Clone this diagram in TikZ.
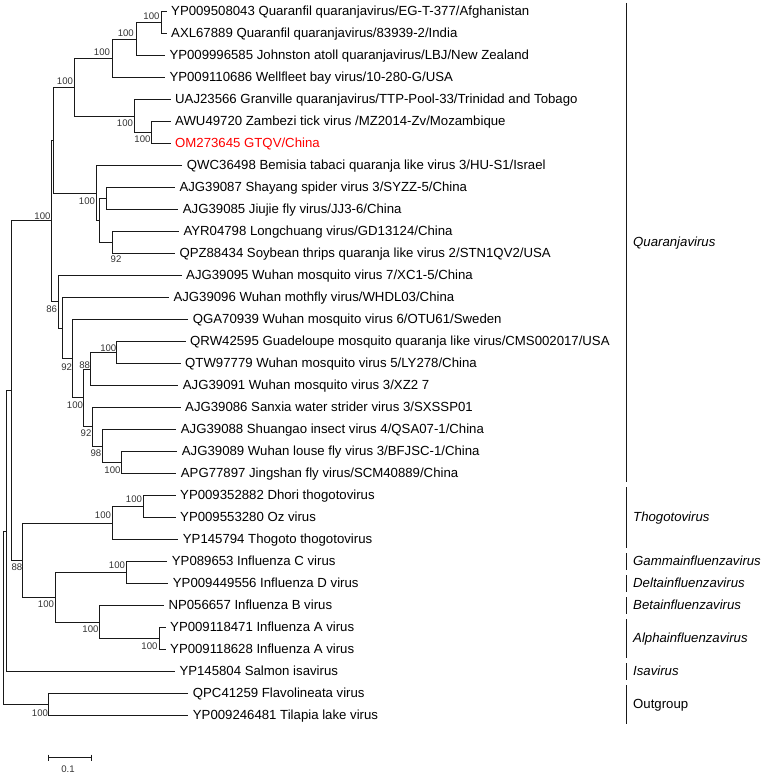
\documentclass[tikz,border=0pt]{standalone}
\usepackage{fontspec}
\setmainfont{Liberation Sans}
\begin{document}
\begin{tikzpicture}[x=1pt,y=-1pt,
  br/.style={line width=1.4pt,draw=black!90},
  leaf/.style={anchor=base west,xshift=4.5pt,yshift=-4.2pt,inner sep=0pt,font=\fontsize{13.2}{15}\selectfont},
  bs/.style={inner sep=0pt,font=\fontsize{9.6}{11}\selectfont,text=black!80},
  clade/.style={anchor=base west,inner sep=0pt,yshift=-4.2pt,font=\fontsize{13.2}{15}\selectfont\itshape},
  cladeup/.style={anchor=base west,inner sep=0pt,yshift=-4.2pt,font=\fontsize{13.2}{15}\selectfont}]
\useasboundingbox (0,0) rectangle (767,775);
% leaf ends
\coordinate (e1) at (166.5,11.5);
\coordinate (e2) at (166.5,33.5);
\coordinate (e3) at (164.8,55.5);
\coordinate (e4) at (164.8,77.5);
\coordinate (e5) at (170.5,99.5);
\coordinate (e6) at (170.5,121.5);
\coordinate (e7) at (170.5,143.5);
\coordinate (e8) at (182.2,165.5);
\coordinate (e9) at (174.8,187.5);
\coordinate (e10) at (178.2,209.5);
\coordinate (e11) at (178.8,231.5);
\coordinate (e12) at (174.8,253.5);
\coordinate (e13) at (181.5,275.5);
\coordinate (e14) at (168.8,297.5);
\coordinate (e15) at (188.2,319.5);
\coordinate (e16) at (185.5,341.5);
\coordinate (e17) at (180.5,363.5);
\coordinate (e18) at (178.2,385.5);
\coordinate (e19) at (180.5,407.5);
\coordinate (e20) at (176.2,429.5);
\coordinate (e21) at (177.2,451.5);
\coordinate (e22) at (176.2,473.5);
\coordinate (e23) at (175.5,495.5);
\coordinate (e24) at (175.5,517.5);
\coordinate (e25) at (178.2,539.5);
\coordinate (e26) at (167.2,561.5);
\coordinate (e27) at (168.2,583.5);
\coordinate (e28) at (163.8,605.5);
\coordinate (e29) at (165.5,627.5);
\coordinate (e30) at (165.5,649.5);
\coordinate (e31) at (174.8,671.5);
\coordinate (e32) at (188.2,693.5);
\coordinate (e33) at (188.2,715.5);
% internal nodes
\coordinate (A) at (161.5,22.5);
\coordinate (B) at (136.5,39.5);
\coordinate (C) at (112.5,58.5);
\coordinate (E) at (151.5,132.5);
\coordinate (D) at (134.5,116.5);
\coordinate (F) at (74.5,87.5);
\coordinate (I) at (106.5,198.5);
\coordinate (J) at (112.5,242.5);
\coordinate (K) at (99.5,220.5);
\coordinate (H) at (96.5,193.5);
\coordinate (G) at (53.5,140.5);
\coordinate (R) at (116.5,352.5);
\coordinate (P) at (90.5,369.5);
\coordinate (U) at (121.5,462.5);
\coordinate (T) at (102.5,446.5);
\coordinate (S) at (92.5,426.5);
\coordinate (O) at (83.5,397.5);
\coordinate (N) at (72.5,358.5);
\coordinate (M) at (62.5,328.5);
\coordinate (L) at (58.5,301.5);
\coordinate (Q) at (51.5,220.5);
\coordinate (X) at (143.5,506.5);
\coordinate (Y) at (112.5,523.5);
\coordinate (CD) at (126.5,572.5);
\coordinate (Al) at (159.5,638.5);
\coordinate (BA) at (99.5,622.5);
\coordinate (Fl) at (55.5,597.5);
\coordinate (Z) at (22.5,560.5);
\coordinate (V) at (11.5,390.5);
\coordinate (W) at (6.5,531.5);
\coordinate (OG) at (48.5,704.5);
\coordinate (Rt) at (3.5,617.5);
% branches
\draw[br] (e1) -| (A) |- (e2);
\draw[br] (A) -| (B) |- (e3);
\draw[br] (B) -| (C) |- (e4);
\draw[br] (e6) -| (E) |- (e7);
\draw[br] (e5) -| (D) |- (E);
\draw[br] (C) -| (F) |- (D);
\draw[br] (e9) -| (I) |- (e10);
\draw[br] (e11) -| (J) |- (e12);
\draw[br] (I) -| (K) |- (J);
\draw[br] (e8) -| (H) |- (K);
\draw[br] (F) -| (G) |- (H);
\draw[br] (e16) -| (R) |- (e17);
\draw[br] (R) -| (P) |- (e18);
\draw[br] (e21) -| (U) |- (e22);
\draw[br] (e20) -| (T) |- (U);
\draw[br] (e19) -| (S) |- (T);
\draw[br] (P) -| (O) |- (S);
\draw[br] (e15) -| (N) |- (O);
\draw[br] (e14) -| (M) |- (N);
\draw[br] (e13) -| (L) |- (M);
\draw[br] (G) -| (Q) |- (L);
\draw[br] (e23) -| (X) |- (e24);
\draw[br] (X) -| (Y) |- (e25);
\draw[br] (e26) -| (CD) |- (e27);
\draw[br] (e29) -| (Al) |- (e30);
\draw[br] (e28) -| (BA) |- (Al);
\draw[br] (CD) -| (Fl) |- (BA);
\draw[br] (Y) -| (Z) |- (Fl);
\draw[br] (Q) -| (V) |- (Z);
\draw[br] (V) -| (W) |- (e31);
\draw[br] (e32) -| (OG) |- (e33);
\draw[br] (W) -| (Rt) |- (OG);
% leaf labels
\node[leaf] (t1) at (e1) {YP009508043 Quaranfil quaranjavirus/EG-T-377/Afghanistan};
\node[leaf] (t2) at (e2) {AXL67889 Quaranfil quaranjavirus/83939-2/India};
\node[leaf] (t3) at (e3) {YP009996585 Johnston atoll quaranjavirus/LBJ/New Zealand};
\node[leaf] (t4) at (e4) {YP009110686 Wellfleet bay virus/10-280-G/USA};
\node[leaf] (t5) at (e5) {UAJ23566 Granville quaranjavirus/TTP-Pool-33/Trinidad and Tobago};
\node[leaf] (t6) at (e6) {AWU49720 Zambezi tick virus /MZ2014-Zv/Mozambique};
\node[leaf,text=red] (t7) at (e7) {OM273645 GTQV/China};
\node[leaf] (t8) at (e8) {QWC36498 Bemisia tabaci quaranja like virus 3/HU-S1/Israel};
\node[leaf] (t9) at (e9) {AJG39087 Shayang spider virus 3/SYZZ-5/China};
\node[leaf] (t10) at (e10) {AJG39085 Jiujie fly virus/JJ3-6/China};
\node[leaf] (t11) at (e11) {AYR04798 Longchuang virus/GD13124/China};
\node[leaf] (t12) at (e12) {QPZ88434 Soybean thrips quaranja like virus 2/STN1QV2/USA};
\node[leaf] (t13) at (e13) {AJG39095 Wuhan mosquito virus 7/XC1-5/China};
\node[leaf] (t14) at (e14) {AJG39096 Wuhan mothfly virus/WHDL03/China};
\node[leaf] (t15) at (e15) {QGA70939 Wuhan mosquito virus 6/OTU61/Sweden};
\node[leaf] (t16) at (e16) {QRW42595 Guadeloupe mosquito quaranja like virus/CMS002017/USA};
\node[leaf] (t17) at (e17) {QTW97779 Wuhan mosquito virus 5/LY278/China};
\node[leaf] (t18) at (e18) {AJG39091 Wuhan mosquito virus 3/XZ2 7};
\node[leaf] (t19) at (e19) {AJG39086 Sanxia water strider virus 3/SXSSP01};
\node[leaf] (t20) at (e20) {AJG39088 Shuangao insect virus 4/QSA07-1/China};
\node[leaf] (t21) at (e21) {AJG39089 Wuhan louse fly virus 3/BFJSC-1/China};
\node[leaf] (t22) at (e22) {APG77897 Jingshan fly virus/SCM40889/China};
\node[leaf] (t23) at (e23) {YP009352882 Dhori thogotovirus};
\node[leaf] (t24) at (e24) {YP009553280 Oz virus};
\node[leaf] (t25) at (e25) {YP145794 Thogoto thogotovirus};
\node[leaf] (t26) at (e26) {YP089653 Influenza C virus};
\node[leaf] (t27) at (e27) {YP009449556 Influenza D virus};
\node[leaf] (t28) at (e28) {NP056657 Influenza B virus};
\node[leaf] (t29) at (e29) {YP009118471 Influenza A virus};
\node[leaf] (t30) at (e30) {YP009118628 Influenza A virus};
\node[leaf] (t31) at (e31) {YP145804 Salmon isavirus};
\node[leaf] (t32) at (e32) {QPC41259 Flavolineata virus};
\node[leaf] (t33) at (e33) {YP009246481 Tilapia lake virus};
% bootstrap values
\node[bs] (bA) at (151.5,16.7) {100};
\node[bs] (bB) at (125.8,33.3) {100};
\node[bs] (bC) at (102,51.7) {100};
\node[bs] (bF) at (65,81) {100};
\node[bs] (bD) at (125,123.3) {100};
\node[bs] (bE) at (142.5,139) {100};
\node[bs] (bQ) at (42.5,215.7) {100};
\node[bs] (bH) at (87,200.7) {100};
\node[bs] (bJ) at (116,259) {92};
\node[bs] (bL) at (51.7,309.3) {86};
\node[bs] (bN) at (66.7,366.7) {92};
\node[bs] (bP) at (84.7,365) {88};
\node[bs] (bR) at (108.3,348.3) {100};
\node[bs] (bO) at (75,405) {100};
\node[bs] (bS) at (86,433.3) {92};
\node[bs] (bT) at (96,452.7) {98};
\node[bs] (bU) at (112.5,470) {100};
\node[bs] (bX) at (134,499.3) {100};
\node[bs] (bY) at (103,515) {100};
\node[bs] (bZ) at (17,567) {88};
\node[bs] (bCD) at (117,565) {100};
\node[bs] (bFl) at (46,604.3) {100};
\node[bs] (bBA) at (90.5,629.3) {100};
\node[bs] (bAl) at (149.5,646) {100};
\node[bs] (bOG) at (40,712.7) {100};
% clade bars
\coordinate (q1) at (626.5,3); \coordinate (q2) at (626.5,482);
\coordinate (th1) at (626.5,487); \coordinate (th2) at (626.5,548);
\coordinate (ga1) at (626.5,553); \coordinate (ga2) at (626.5,570);
\coordinate (de1) at (626.5,575); \coordinate (de2) at (626.5,592);
\coordinate (be1) at (626.5,597); \coordinate (be2) at (626.5,614);
\coordinate (al1) at (626.5,619); \coordinate (al2) at (626.5,658);
\coordinate (is1) at (626.5,663); \coordinate (is2) at (626.5,680);
\coordinate (og1) at (626.5,685); \coordinate (og2) at (626.5,724);
\draw[br] (q1) -- (q2);
\draw[br] (th1) -- (th2);
\draw[br] (ga1) -- (ga2);
\draw[br] (de1) -- (de2);
\draw[br] (be1) -- (be2);
\draw[br] (al1) -- (al2);
\draw[br] (is1) -- (is2);
\draw[br] (og1) -- (og2);
\node[clade] (cq) at (633,242.5) {Quaranjavirus};
\node[clade] (cth) at (633,517.5) {Thogotovirus};
\node[clade] (cga) at (633,561.5) {Gammainfluenzavirus};
\node[clade] (cde) at (633,583.5) {Deltainfluenzavirus};
\node[clade] (cbe) at (633,605.5) {Betainfluenzavirus};
\node[clade] (cal) at (633,638.5) {Alphainfluenzavirus};
\node[clade] (cis) at (633,671.5) {Isavirus};
\node[cladeup] (cog) at (633,704.5) {Outgroup};
% scale bar
\coordinate (sb1) at (48.5,757.5);
\coordinate (sb2) at (91.5,757.5);
\draw[br] (sb1) -- (sb2);
\draw[br] ([yshift=3pt]sb1) -- ([yshift=-3pt]sb1);
\draw[br] ([yshift=3pt]sb2) -- ([yshift=-3pt]sb2);
\node[bs] (sbl) at (68,769.3) {0.1};
\end{tikzpicture}
\end{document}
